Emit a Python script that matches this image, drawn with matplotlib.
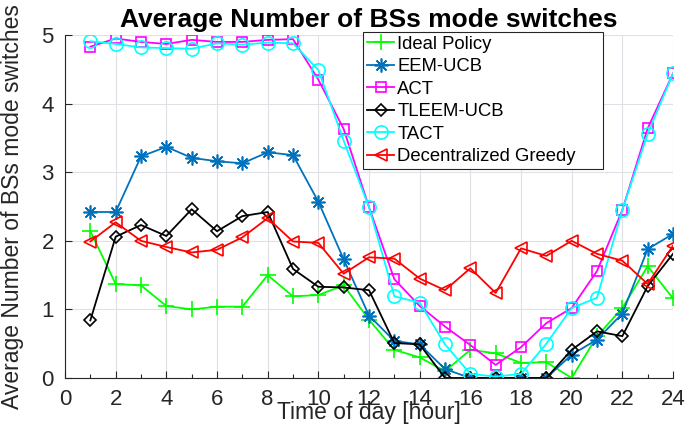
import matplotlib
matplotlib.use("Agg")
import matplotlib.pyplot as plt
from matplotlib.ticker import MultipleLocator

plt.rcParams["font.family"] = ["Liberation Sans", "DejaVu Sans"]

hours = list(range(1, 25))

ideal = [2.14, 1.37, 1.35, 1.05, 1.00, 1.04, 1.04, 1.50, 1.19, 1.21, 1.35, 0.85,
         0.41, 0.30, 0.10, 0.41, 0.36, 0.22, 0.23, 0.00, 0.61, 1.02, 1.63, 1.16]
eem_ucb = [2.42, 2.42, 3.23, 3.37, 3.21, 3.16, 3.13, 3.29, 3.25, 2.57, 1.73, 0.91,
           0.54, 0.49, 0.13, 0.00, 0.00, 0.00, 0.00, 0.34, 0.56, 0.94, 1.88, 2.10]
act = [4.83, 4.95, 4.90, 4.87, 4.93, 4.90, 4.90, 4.93, 4.94, 4.35, 3.63, 2.49,
       1.44, 1.05, 0.75, 0.48, 0.19, 0.45, 0.80, 1.02, 1.56, 2.45, 3.64, 4.44]
tleem_ucb = [0.84, 2.06, 2.23, 2.07, 2.46, 2.14, 2.36, 2.42, 1.59, 1.33, 1.32, 1.28,
             0.51, 0.49, 0.00, 0.00, 0.00, 0.00, 0.00, 0.41, 0.68, 0.61, 1.34, 1.81]
tact = [4.91, 4.87, 4.82, 4.81, 4.80, 4.88, 4.86, 4.89, 4.88, 4.49, 3.46, 2.49,
        1.19, 1.10, 0.49, 0.06, 0.02, 0.06, 0.50, 1.02, 1.17, 2.45, 3.56, 4.44]
greedy = [1.99, 2.27, 2.00, 1.91, 1.83, 1.87, 2.05, 2.33, 1.99, 1.97, 1.52, 1.76,
          1.74, 1.45, 1.28, 1.60, 1.24, 1.89, 1.78, 2.00, 1.81, 1.71, 1.37, 1.93]

fig = plt.figure(figsize=(6.85, 4.26), dpi=100)
ax = fig.add_axes([0.0949, 0.1127, 0.8876, 0.805])

lw = 1.3
ax.plot(hours, ideal, color=(0, 1, 0), marker="+", ms=11, mew=1.2, lw=lw, label="Ideal Policy")
ax.plot(hours, eem_ucb, color=(0, 0.447, 0.741), marker=(8, 2, 0), ms=10, mew=1.2, lw=lw, label="EEM-UCB")
ax.plot(hours, act, color=(1, 0, 1), marker="s", ms=6.5, mfc="none", mew=1.2, lw=lw, label="ACT")
ax.plot(hours, tleem_ucb, color="black", marker="D", ms=6.2, mfc="none", mew=1.2, lw=lw, label="TLEEM-UCB")
ax.plot(hours, tact, color=(0, 1, 1), marker="o", ms=9.5, mfc="none", mew=1.2, lw=lw, label="TACT")
ax.plot(hours, greedy, color=(1, 0, 0), marker="<", ms=8, mfc="none", mew=1.2, lw=lw, label="Decentralized Greedy")

ax.set_xlim(0, 24)
ax.set_ylim(0, 5)
ax.xaxis.set_major_locator(MultipleLocator(2))
ax.xaxis.set_minor_locator(MultipleLocator(1))
ax.yaxis.set_major_locator(MultipleLocator(1))

dark = (0.15, 0.15, 0.15)
ax.grid(True, which="major", color=(0.88, 0.88, 0.9), lw=0.8)
ax.set_axisbelow(True)
for s in ["top", "right"]:
    ax.spines[s].set_visible(False)
for s in ["left", "bottom"]:
    ax.spines[s].set_color(dark)
    ax.spines[s].set_linewidth(0.8)
ax.tick_params(which="both", direction="in", colors=dark, labelsize=16, width=0.8)
ax.tick_params(which="major", length=5, pad=8)
ax.tick_params(which="minor", length=3)
ax.tick_params(axis="y", which="minor", left=False)

ax.set_title("Average Number of BSs mode switches", fontsize=19, fontweight="bold", pad=6)
ax.set_xlabel("Time of day [hour]", fontsize=16.5, color=dark)
ax.xaxis.set_label_coords(0.5, -0.068)
ax.set_ylabel("Average Number of BSs mode switches", fontsize=16.5, color=dark)
ax.yaxis.set_label_coords(-0.068, 0.5)

# MATLAB-style legend box: wider than its text
leg = ax.legend(loc="upper left", mode="expand",
                bbox_to_anchor=(363 / 685, (426 - 168) / 426, 240 / 685, 136 / 426),
                bbox_transform=fig.transFigure, fontsize=13.3, frameon=True,
                fancybox=False, framealpha=1, edgecolor=dark, borderpad=0.2,
                labelspacing=0.3, handlelength=1.5, handletextpad=0.15,
                borderaxespad=0)
leg.get_frame().set_linewidth(0.8)

fig.savefig("out.png", dpi=100)
